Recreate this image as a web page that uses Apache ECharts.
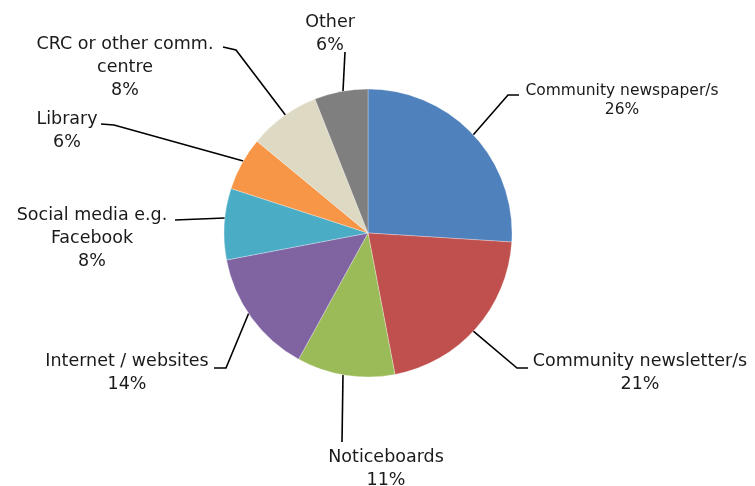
<!DOCTYPE html>
<html>
<head>
<meta charset="utf-8">
<script src="https://cdn.jsdelivr.net/npm/echarts@6/dist/echarts.min.js"></script>
<style>
html,body{margin:0;padding:0;background:#fff;}
#chart{width:755px;height:486px;}
</style>
</head>
<body>
<div id="chart"></div>
<script>
// Data
var categories = ['Community newspaper/s', 'Community newsletter/s', 'Noticeboards', 'Internet / websites', 'Social media e.g.\nFacebook', 'Library', 'CRC or other comm.\ncentre', 'Other'];
var values = [26, 21, 11, 14, 8, 6, 8, 6];
var colors = ['#4F81BD', '#C0504D', '#9BBB59', '#8064A2', '#4BACC6', '#F79646', '#DDD9C3', '#7F7F7F'];

// Layout (label placement, not data)
var CX = 368, CY = 233, R = 144;
var labelPos = [
  {x: 622, y: 81, size: 15.5, lh: 19, edge: 47, pts: [[508, 95], [519, 95]]},
  {x: 640, y: 350, size: 17.5, lh: 23, edge: 133, pts: [[517, 368], [528, 368]]},
  {x: 386, y: 446, size: 17.5, lh: 23, edge: 190, pts: [[342, 442]]},
  {x: 127, y: 350, size: 17.5, lh: 23, edge: 236, pts: [[226, 368], [214, 368]]},
  {x: 92, y: 204, size: 17.5, lh: 23, edge: 276, pts: [[175, 220]]},
  {x: 67, y: 108, size: 17.5, lh: 23, edge: 300, pts: [[114, 125], [101, 124]]},
  {x: 125, y: 33, size: 17.5, lh: 23, edge: 325, pts: [[236, 50], [223, 47]]},
  {x: 330, y: 11, size: 17.5, lh: 23, edge: 350, pts: [[345, 52]]}
];

var seriesData = categories.map(function (c, i) {
  return {
    name: c,
    value: values[i],
    itemStyle: {color: colors[i]},
    label: {fontSize: labelPos[i].size, lineHeight: labelPos[i].lh}
  };
});

var chart = echarts.init(document.getElementById('chart'), null, {renderer: 'canvas'});
chart.setOption({
  animation: false,
  backgroundColor: '#ffffff',
  series: [{
    type: 'pie',
    center: [CX, CY],
    radius: [0, R],
    startAngle: 90,
    clockwise: true,
    avoidLabelOverlap: false,
    data: seriesData,
    itemStyle: {borderColor: '#ffffff', borderWidth: 0.3},
    label: {
      show: true,
      position: 'outside',
      color: '#1a1a1a',
      fontFamily: 'DejaVu Sans',
      fontSize: 17.5,
      lineHeight: 23,
      align: 'center',
      formatter: function (p) { return p.name + '\n' + p.value + '%'; }
    },
    labelLine: {show: true, smooth: false, lineStyle: {color: '#000000', width: 1.6}},
    labelLayout: function (params) {
      var lp = labelPos[params.dataIndex];
      var a = lp.edge * Math.PI / 180;
      var p0 = [CX + R * Math.sin(a), CY - R * Math.cos(a)];
      return {
        x: lp.x,
        y: lp.y,
        align: 'center',
        verticalAlign: 'top',
        labelLinePoints: [p0].concat(lp.pts)
      };
    },
    emphasis: {disabled: true}
  }]
});
</script>
</body>
</html>
